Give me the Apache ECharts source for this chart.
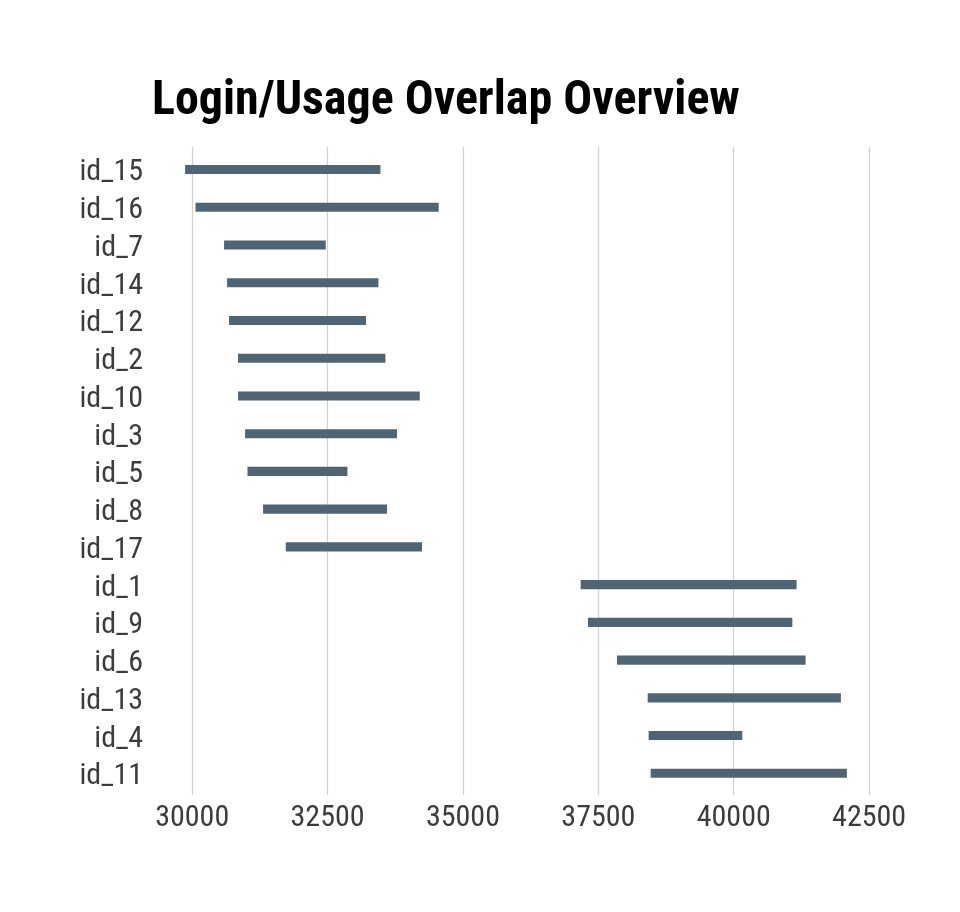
<!DOCTYPE html>
<html><head><meta charset="utf-8">
<script src="https://cdn.jsdelivr.net/npm/echarts@6/dist/echarts.min.js"></script>
<style>html,body{margin:0;padding:0;background:#fff}#c{width:960px;height:912px}</style>
</head><body><div id="c"></div>
<script>
const categories = ['id_15','id_16','id_7','id_14','id_12','id_2','id_10','id_3','id_5','id_8','id_17','id_1','id_9','id_6','id_13','id_4','id_11'];
const startValues = [29869,30061,30589,30644,30681,30847,30847,30977,31021,31309,31728,37174,37308,37844,38411,38429,38466];
const endValues   = [33476,34552,32466,33439,33210,33568,34202,33783,32867,33598,34244,41161,41082,41327,41979,40158,42090];
const xTicks = [30000,32500,35000,37500,40000,42500];

const FONT = "'Roboto Condensed', 'Roboto', sans-serif";
const dataMin = Math.min(...startValues), dataMax = Math.max(...endValues);
const span = dataMax - dataMin;
const xMin = dataMin - 0.05 * span, xMax = dataMax + 0.05 * span;
const tickStep = xTicks[1] - xTicks[0];

const gridLeft = 152, gridRight = 80;
const lineColors = ['rgba(0,0,0,0)'].concat(xTicks.map(() => '#d0d0d0'), ['rgba(0,0,0,0)']);

const chart = echarts.init(document.getElementById('c'), null, {renderer: 'canvas'});
chart.setOption({
  backgroundColor: '#ffffff',
  animation: false,
  title: {
    text: 'Login/Usage Overlap Overview',
    left: 147, top: 73,
    textStyle: {fontFamily: FONT, fontSize: 48, fontWeight: 'bold', color: '#000000'}
  },
  grid: [
    {left: gridLeft, right: gridRight, top: 150.6, bottom: 119.8},
    {left: gridLeft, right: gridRight, top: 147, bottom: 117}
  ],
  xAxis: [
    {type: 'value', gridIndex: 0, min: xMin, max: xMax, show: false},
    {type: 'value', gridIndex: 1, min: xMin, max: xMax,
     minInterval: tickStep, maxInterval: tickStep,
     axisLine: {show: false}, axisTick: {show: false},
     splitLine: {show: true, lineStyle: {color: lineColors, width: 1.2}},
     axisLabel: {show: true, showMinLabel: false, showMaxLabel: false, margin: 8,
       fontFamily: FONT, fontSize: 30, color: '#3c3c3c',
       formatter: v => String(v)}}
  ],
  yAxis: [
    {type: 'category', gridIndex: 0, data: categories, inverse: true,
     axisLine: {show: false}, axisTick: {show: false}, splitLine: {show: false},
     axisLabel: {interval: 0, margin: 9, fontFamily: FONT, fontSize: 30, color: '#3c3c3c',
       formatter: v => '{l|' + v + '}',
       rich: {l: {fontFamily: FONT, fontSize: 30, color: '#3c3c3c', padding: [7, 0, 0, 0]}}}},
    {type: 'value', gridIndex: 1, min: 0, max: 1, show: false}
  ],
  series: [{
    type: 'custom',
    xAxisIndex: 0, yAxisIndex: 0,
    encode: {x: [1, 2], y: 0},
    data: categories.map((c, i) => [i, startValues[i], endValues[i]]),
    renderItem: function (params, api) {
      const y = api.value(0);
      const s = api.coord([api.value(1), y]);
      const e = api.coord([api.value(2), y]);
      const h = api.size([0, 1])[1] * 0.24;
      return {type: 'rect', shape: {x: s[0], y: s[1] - h / 2, width: e[0] - s[0], height: h},
              style: {fill: '#506473'}};
    }
  }]
});
</script></body></html>
